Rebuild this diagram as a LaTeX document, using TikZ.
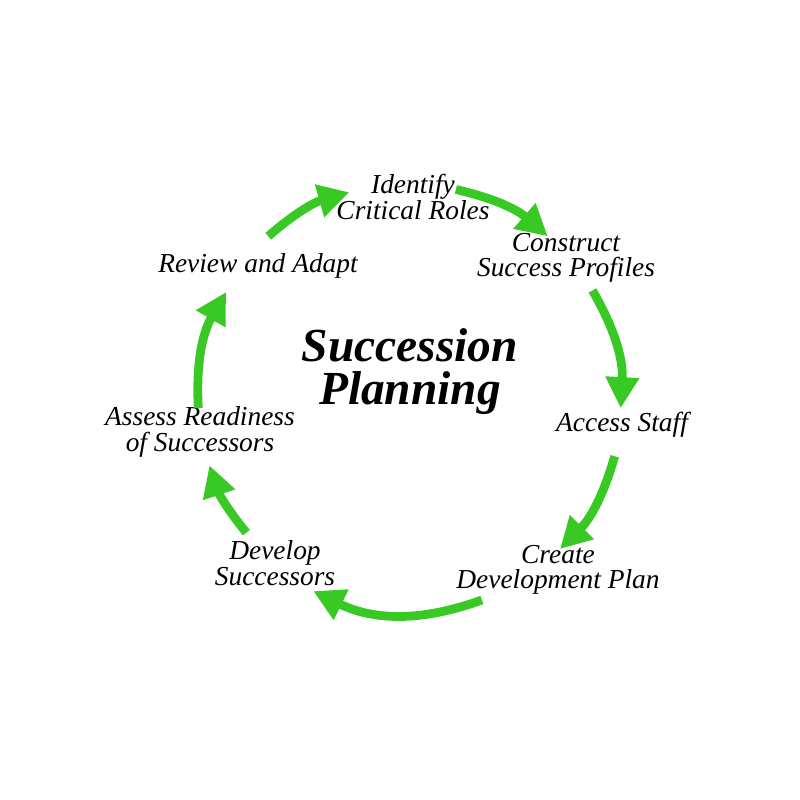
\documentclass[tikz,border=0pt]{standalone}
\usepackage{fontspec}
\setmainfont{Liberation Serif}
\usetikzlibrary{arrows.meta, calc}
\definecolor{cyclegreen}{RGB}{57, 201, 37}

\begin{document}
\begin{tikzpicture}[
  step label/.style={align=center, inner sep=0pt, font=\fontsize{15.6}{14.6}\selectfont\itshape},
  cycle arrow/.style={cyclegreen, line width=5pt, -{Triangle[length=0.62cm, width=0.64cm]}}
]
  \useasboundingbox (0,0) rectangle (16,-16);

  \node[align=center, inner sep=0pt, font=\fontsize{27}{24.5}\selectfont\bfseries\itshape] (title) at (8.2,-7.44) {Succession\\Planning};

  \node[step label] (identify) at (8.26,-3.94) {Identify\\Critical Roles};
  \node[step label] (construct) at (11.32,-5.16) {Construct\\Success Profiles};
  \node[step label] (access) at (12.44,-8.5) {Access Staff};
  \node[step label] (create) at (11.16,-11.4) {Create\\Development Plan};
  \node[step label] (develop) at (5.5,-11.26) {Develop\\Successors};
  \node[step label] (assess) at (4.0,-8.64) {Assess Readiness\\of Successors};
  \node[step label] (review) at (5.16,-5.32) {Review and Adapt};

  % points on the cycle
  \coordinate (c) at (8.16,-7.94);
  \coordinate (s1) at ([shift={(131:4.26)}]c);
  \coordinate (e1) at ([shift={(106:4.26)}]c);
  \coordinate (s2) at ([shift={(77:4.26)}]c);
  \coordinate (e2) at ([shift={(49:4.26)}]c);
  \coordinate (s3) at ([shift={(30:4.26)}]c);
  \coordinate (e3) at ([shift={(-3:4.26)}]c);
  \coordinate (s4) at ([shift={(-16:4.3)}]c);
  \coordinate (e4) at ([shift={(-45:4.3)}]c);
  \coordinate (s5) at ([shift={(-70:4.32)}]c);
  \coordinate (e5) at ([shift={(-116:4.32)}]c);
  \coordinate (s6) at ([shift={(-140:4.22)}]c);
  \coordinate (e6) at ([shift={(-161:4.2)}]c);
  \coordinate (s7) at ([shift={(183:4.2)}]c);
  \coordinate (e7) at ([shift={(150:4.2)}]c);

  \draw[cycle arrow] (s1) to[bend left=12.5] (e1);
  \draw[cycle arrow] (s2) to[bend left=14] (e2);
  \draw[cycle arrow] (s3) to[bend left=16.5] (e3);
  \draw[cycle arrow] (s4) to[bend left=14.5] (e4);
  \draw[cycle arrow] (s5) to[bend left=23] (e5);
  \draw[cycle arrow] (s6) to[bend left=10.5] (e6);
  \draw[cycle arrow] (s7) to[bend left=16.5] (e7);
\end{tikzpicture}
\end{document}
